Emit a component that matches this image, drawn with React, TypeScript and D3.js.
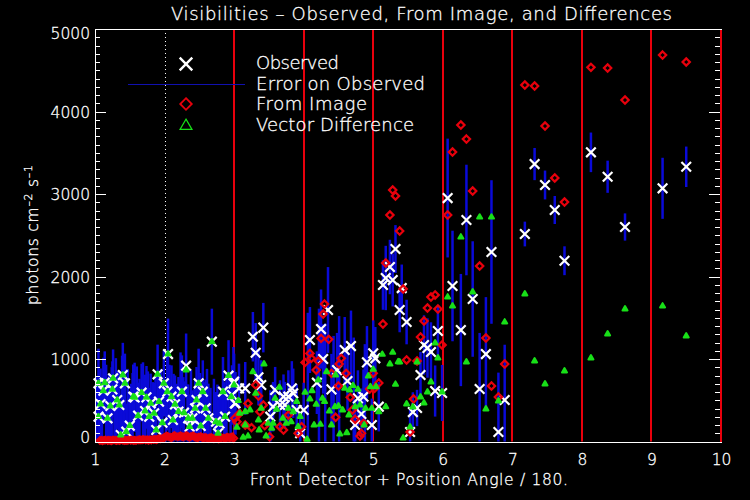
import React, { useRef, useEffect } from "react";
import * as d3 from "d3";

const xTicks = [1, 2, 3, 4, 5, 6, 7, 8, 9, 10];
const yTicks = [0, 1000, 2000, 3000, 4000, 5000];
const redLines = [3, 4, 5, 6, 7, 8, 9, 10];
const dottedLines = [2];

// observed visibilities, position and amplitude
const obsX = [
    1.05, 1.14, 1.26, 1.4, 1.43, 1.12, 1.25, 1.08, 1.22, 1.32, 1.35, 1.05, 1.18, 1.37, 1.45, 1.5, 1.55, 1.57, 1.67, 1.74,
    1.8, 1.62, 1.72, 1.78, 1.85, 1.88, 1.97, 1.92, 1.9, 1.99, 2.05, 2.04, 2.1, 2.25, 2.15, 2.2, 2.28, 2.12, 2.31, 2.34,
    2.4, 2.36, 2.52, 2.44, 2.46, 2.49, 2.55, 2.59, 2.63, 2.74, 2.79, 2.77, 2.68, 2.87, 2.84, 2.92, 2.99, 2.97, 3.02,
    3.0, 3.16, 3.07, 3.01, 3.27, 3.42, 3.31, 3.35, 3.39, 3.59, 3.83, 3.85, 3.71, 3.78, 3.56, 3.73, 3.52, 3.66, 3.9, 4.0,
    3.95, 4.09, 4.25, 4.28, 4.19, 4.4, 4.48, 4.35, 4.59, 4.68, 4.63, 4.91, 5.0, 5.03, 4.86, 4.78, 4.83, 4.74, 4.98, 5.08,
    5.32, 5.24, 5.18, 5.28, 5.14, 5.41, 5.38, 5.48, 5.93, 5.73, 5.78, 5.83, 5.68, 5.89, 5.99, 5.63, 5.57, 5.53,
    6.07, 6.34, 6.14, 6.43, 6.26, 6.62, 6.53, 6.7, 6.89, 6.8,
    7.18, 7.32, 7.47, 7.61, 7.75, 8.13, 8.37, 8.62, 9.16, 9.5,
];
const obsY = [
    705, 713, 766, 806, 705, 616, 632, 455, 430, 503, 442, 301, 281, 79, 119, 192, 543, 535, 592, 535,
    463, 313, 370, 301, 341, 139, 228, 483, 814, 705, 1060, 604, 543, 604, 450, 362, 349, 261, 919, 281,
    281, 180, 188, 402, 503, 705, 604, 402, 281, 240, 220, 99, 1210, 301, 604, 798, 705, 564, 463,
    725, 644, 644, 462, 1270, 1380, 1076, 778, 685, 624, 644, 584, 543, 543, 422, 442, 301, 442, 382, 382,
    100, 1230, 1363, 1000, 713, 632, 866, 1594, 1109, 1157, 733, 959, 1068, 1008, 543, 523, 333, 200, 200, 422,
    2333, 2115, 1982, 1957, 1897, 1860, 1594, 1448, 1339, 1170, 1133, 1085, 806, 612, 588, 406, 357, 115,
    2951, 2685, 1885, 1727, 1351, 1060, 636, 2297, 503, 115,
    2515, 3363, 3109, 2806, 2191, 3505, 3209, 2600, 3069, 3330,
];
const obsErr = [
    420, 380, 350, 390, 360, 400, 340, 430, 380, 350, 400, 430, 390, 360, 340, 410, 390, 420, 350, 380,
    360, 400, 440, 350, 370, 400, 420, 340, 360, 400, 430, 470, 380, 440, 350, 420, 380, 360, 390, 410,
    340, 390, 380, 350, 400, 420, 380, 350, 420, 360, 340, 410, 400, 380, 420, 430, 440, 360, 380,
    340, 320, 300, 350, 300, 300, 360, 340, 300, 280, 330, 300, 270, 320, 300, 280, 320, 300, 310, 330,
    260, 400, 480, 420, 380, 430, 450, 520, 400, 430, 360, 440, 400, 380, 330, 340, 310, 300, 320, 300,
    290, 330, 390, 320, 300, 285, 270, 270, 300, 360, 360, 360, 280, 310, 340, 220, 240, 300,
    720, 670, 670, 700, 680, 690, 680, 870, 670, 720,
    150, 195, 175, 170, 175, 240, 195, 165, 370, 245,
];

// bars whose crosses sit behind others, only their tops can be read
const hiddenBarX = [
    1.02, 1.07, 1.1, 1.16, 1.2, 1.24, 1.28, 1.3, 1.34, 1.39, 1.42, 1.47, 1.52, 1.54, 1.6, 1.64, 1.69, 1.76, 1.83, 1.87,
    1.95, 2.02, 2.07, 2.13, 2.18, 2.23, 2.27, 2.33, 2.38, 2.43, 2.48, 2.51, 2.57, 2.61, 2.66, 2.71, 2.76, 2.81, 2.86, 2.89, 2.95,
    4.06, 4.22, 4.31, 4.43, 4.51, 4.72, 4.88,
];
const hiddenBarTop = [
    780, 860, 720, 930, 810, 900, 740, 1010, 840, 1040, 790, 880, 700, 830, 910, 760, 960, 850, 720, 790,
    880, 760, 930, 820, 700, 1080, 780, 690, 870, 640, 760, 830, 720, 880, 650, 760, 690, 640, 720, 830, 760,
    1560, 1610, 1430, 1280, 1520, 1260, 1180,
];

// the model is almost zero below 3, its diamonds pile up into a band on the axis
const bandX = [
    1.07, 1.09, 1.11, 1.13, 1.15, 1.18, 1.2, 1.22, 1.24, 1.26, 1.29, 1.31, 1.33, 1.35, 1.37, 1.4, 1.42, 1.44, 1.46, 1.48,
    1.51, 1.53, 1.55, 1.57, 1.59, 1.62, 1.64, 1.66, 1.68, 1.7, 1.73, 1.75, 1.77, 1.79, 1.81, 1.84, 1.86, 1.88, 1.9, 1.92,
    1.94, 1.97, 1.99, 2.01, 2.03, 2.05, 2.08, 2.1, 2.12, 2.14, 2.16, 2.19, 2.21, 2.23, 2.25, 2.27, 2.3, 2.32, 2.34, 2.36,
    2.38, 2.41, 2.43, 2.45, 2.47, 2.49, 2.52, 2.54, 2.56, 2.58, 2.6, 2.63, 2.65, 2.67, 2.69, 2.71, 2.74, 2.76, 2.78, 2.8,
    2.82, 2.85, 2.87, 2.89, 2.91, 2.93, 2.95, 2.97,
];
const bandY = [
    12, 15, 10, 14, 18, 11, 16, 13, 10, 17, 14, 11, 16, 12, 18, 15, 11, 16, 13, 17,
    14, 18, 11, 16, 12, 19, 21, 18, 22, 24, 18, 20, 16, 22, 19, 24, 26, 22, 28, 34,
    32, 38, 46, 58, 66, 60, 52, 46, 58, 72, 64, 56, 62, 70, 60, 54, 66, 72, 58, 50,
    62, 70, 56, 50, 44, 52, 60, 48, 42, 50, 44, 36, 42, 48, 40, 34, 42, 36, 30, 38,
    46, 42, 36, 48, 52, 44, 50, 58,
];

// from image, above 3
const imageX = [
    2.99, 3.01, 3.04, 3.08, 3.16, 3.2, 3.25, 3.31, 3.35, 3.37, 3.42, 3.44, 3.51, 3.66, 3.71, 3.78, 3.92, 3.97,
    4.02, 4.09, 4.11, 4.18, 4.21, 4.25, 4.28, 4.3, 4.36, 4.4, 4.46, 4.5, 4.51, 4.54, 4.61, 4.67, 4.7, 4.74, 4.81, 4.83, 4.86,
    4.95, 5.0, 5.02, 5.08, 5.14, 5.18, 5.24, 5.28, 5.32, 5.38, 5.43, 5.48, 5.53, 5.58, 5.63, 5.68, 5.73, 5.78, 5.83, 5.89, 5.93, 5.99,
    6.07, 6.14, 6.26, 6.34, 6.43, 6.53, 6.62, 6.7, 6.8, 6.89,
    7.18, 7.32, 7.47, 7.61, 7.75, 8.13, 8.37, 8.62, 9.16, 9.5,
];
const imageY = [
    38, 281, 240, 341, 200, 462, 168, 685, 551, 361, 442, 192, 58, 180, 139, 321, 99, 180,
    959, 1068, 1008, 866, 975, 1250, 1545, 1666, 1238, 826, 293, 672, 939, 1008, 826, 535, 382, 269, 66, 99, 220,
    636, 826, 644, 709, 1424, 2163, 2745, 3048, 2976, 2551, 1848, 988, 115, 515, 976, 1267, 1460, 1618, 1751, 1776, 1606, 1170,
    2745, 3509, 3836, 3666, 3036, 2127, 1254, 673, 539, 939,
    4321, 4309, 3824, 3194, 2903, 4535, 4527, 4139, 4684, 4600,
];

// vector difference
const diffX = [
    1.05, 1.14, 1.26, 1.4, 1.43, 1.12, 1.25, 1.08, 1.22, 1.32, 1.35, 1.05, 1.18, 1.37, 1.45, 1.5, 1.55, 1.57, 1.67, 1.74,
    1.8, 1.62, 1.72, 1.78, 1.85, 1.88, 1.97, 1.92, 1.9, 1.99, 2.05, 2.04, 2.1, 2.25, 2.15, 2.2, 2.28, 2.12, 2.31, 2.34,
    2.4, 2.36, 2.52, 2.44, 2.46, 2.49, 2.55, 2.59, 2.63, 2.74, 2.79, 2.77, 2.68, 2.87, 2.84, 2.92, 2.96,
    3.27, 3.43, 3.0, 3.06, 3.31, 3.59, 3.65, 3.9, 3.39, 3.23, 3.16, 3.08, 3.61, 3.78, 3.85, 3.95, 3.35, 3.04, 3.16, 3.2, 3.13,
    3.36, 3.46, 3.49, 3.56, 3.54, 3.7, 3.75, 3.82, 3.92, 4.05, 4.02, 4.12, 4.09, 4.18, 4.21, 4.33, 4.46, 4.27, 4.3, 4.37,
    4.45, 4.5, 4.56, 4.15, 4.24, 4.4, 4.52, 4.62, 4.59, 4.71, 4.66, 4.78, 4.65, 4.74, 4.81, 4.89, 4.98, 4.93, 5.0, 5.13,
    5.28, 5.24, 5.36, 5.32, 5.08, 5.18, 4.96, 5.04, 4.87, 5.48, 5.38, 5.63, 5.89, 5.93, 5.83, 5.78, 5.99, 5.73, 5.68, 5.57, 5.53, 5.43,
    6.07, 6.14, 6.26, 6.34, 6.43, 6.53, 6.7, 6.62, 6.8, 6.89,
    7.18, 7.32, 7.47, 7.75, 8.13, 8.37, 8.62, 9.16, 9.5,
];
const diffY = [
    705, 713, 766, 806, 705, 616, 632, 455, 430, 503, 442, 301, 281, 79, 119, 192, 543, 535, 592, 535,
    463, 313, 370, 301, 341, 139, 228, 483, 814, 705, 1060, 604, 543, 604, 450, 362, 349, 261, 867, 281,
    281, 180, 188, 402, 503, 705, 604, 402, 281, 240, 220, 99, 1210, 301, 604, 798, 543,
    846, 939, 685, 495, 584, 523, 656, 483, 402, 382, 361, 341, 390, 402, 361, 301, 260, 172, 200, 66, 50,
    139, 66, 220, 220, 160, 281, 220, 240, 180, 26, 596, 616, 515, 450, 745, 846, 806, 523, 483, 369,
    422, 430, 382, 200, 208, 200, 91, 107, 644, 677, 624, 632, 321, 422, 442, 402, 402, 794, 874, 1056,
    1080, 939, 967, 693, 361, 422, 664, 664, 200, 455, 964, 964, 1194, 1012, 721, 600, 600, 467, 539, 418, 176, 42,
    1751, 1642, 2478, 964, 1812, 2720, 2720, 394, 491, 1448,
    1788, 976, 697, 855, 1012, 1303, 1606, 1642, 1279,
];

const legendLabels = ["Observed", "Error on Observed", "From Image", "Vector Difference"];

const WHITE = "#ffffff";
const RED = "#e8000c";
const BLUE = "#0a0ad8";
const GREEN = "#18e018";
const FONT = "'DejaVu Sans', sans-serif";

function App() {
    const svgRef = useRef<SVGSVGElement>(null);

    useEffect(() => {
        const svg = d3.select(svgRef.current);
        svg.selectAll("*").remove();

        const xScale = d3.scaleLinear().domain([1, 10]).range([95, 721]);
        const yScale = d3.scaleLinear().domain([0, 5000]).range([441.5, 29]);

        // guide lines go under the data
        svg.selectAll(".red-line")
            .data(redLines)
            .join("line")
            .attr("x1", (d) => Math.round(xScale(d)))
            .attr("x2", (d) => Math.round(xScale(d)))
            .attr("y1", yScale(5000))
            .attr("y2", yScale(0))
            .attr("stroke", RED)
            .attr("stroke-width", 2);

        svg.selectAll(".dotted-line")
            .data(dottedLines)
            .join("line")
            .attr("x1", (d) => Math.round(xScale(d)) + 0.5)
            .attr("x2", (d) => Math.round(xScale(d)) + 0.5)
            .attr("y1", yScale(5000))
            .attr("y2", yScale(0))
            .attr("stroke", WHITE)
            .attr("stroke-dasharray", "1 3");

        svg.append("g")
            .selectAll("line")
            .data(hiddenBarX)
            .join("line")
            .attr("x1", (d) => xScale(d))
            .attr("x2", (d) => xScale(d))
            .attr("y1", (_, i) => yScale(hiddenBarTop[i]))
            .attr("y2", yScale(0))
            .attr("stroke", BLUE)
            .attr("stroke-width", 2.5);

        // error bars, stopped at the axis
        svg.append("g")
            .selectAll("line")
            .data(obsX)
            .join("line")
            .attr("x1", (d) => xScale(d))
            .attr("x2", (d) => xScale(d))
            .attr("y1", (_, i) => yScale(Math.min(5000, obsY[i] + obsErr[i])))
            .attr("y2", (_, i) => yScale(Math.max(0, obsY[i] - obsErr[i])))
            .attr("stroke", BLUE)
            .attr("stroke-width", 2.5);

        const cross = d3.symbol().type(d3.symbolTimes);
        const diamond = d3.symbol().type(d3.symbolDiamond2);
        const triangle = d3.symbol().type(d3.symbolTriangle);

        svg.append("g")
            .selectAll("path")
            .data(obsX)
            .join("path")
            .attr("d", cross.size(62)())
            .attr("transform", (d, i) => `translate(${xScale(d)},${yScale(obsY[i])})`)
            .attr("fill", "none")
            .attr("stroke", WHITE)
            .attr("stroke-width", 2.2);

        svg.append("g")
            .selectAll("path")
            .data(bandX)
            .join("path")
            .attr("d", diamond.size(28)())
            .attr("transform", (d, i) => `translate(${xScale(d)},${yScale(bandY[i])})`)
            .attr("fill", "none")
            .attr("stroke", RED)
            .attr("stroke-width", 2);

        svg.append("g")
            .selectAll("path")
            .data(imageX)
            .join("path")
            .attr("d", diamond.size(34)())
            .attr("transform", (d, i) => `translate(${xScale(d)},${yScale(imageY[i])})`)
            .attr("fill", "none")
            .attr("stroke", RED)
            .attr("stroke-width", 2.2);

        svg.append("g")
            .selectAll("path")
            .data(diffX)
            .join("path")
            .attr("d", triangle.size(11)())
            .attr("transform", (d, i) => `translate(${xScale(d)},${yScale(diffY[i])})`)
            .attr("fill", GREEN)
            .attr("stroke", GREEN)
            .attr("stroke-width", 2)
            .attr("stroke-linejoin", "round");

        // axes
        const yMinor = d3.range(0, 5001, 100);
        const frame = svg.append("g");
        const left = frame
            .append("g")
            .attr("transform", `translate(${xScale(1)},0)`)
            .call(d3.axisLeft(yScale).tickValues(yTicks).tickSizeInner(-11).tickSizeOuter(0).tickPadding(5).tickFormat(d3.format("d")));
        frame.append("g")
            .attr("transform", `translate(${xScale(1)},0)`)
            .call(d3.axisLeft(yScale).tickValues(yMinor).tickSizeInner(-5).tickSizeOuter(0).tickFormat(() => ""));
        frame.append("g")
            .attr("transform", `translate(${xScale(10) - 1},0)`)
            .call(d3.axisRight(yScale).tickValues(yTicks).tickSizeInner(-11).tickSizeOuter(0).tickFormat(() => ""));
        frame.append("g")
            .attr("transform", `translate(${xScale(10) - 1},0)`)
            .call(d3.axisRight(yScale).tickValues(yMinor).tickSizeInner(-5).tickSizeOuter(0).tickFormat(() => ""));
        const bottom = frame
            .append("g")
            .attr("transform", `translate(0,${yScale(0)})`)
            .call(d3.axisBottom(xScale).tickValues(xTicks).tickSize(0).tickPadding(12).tickFormat(d3.format("d")));
        frame.append("g")
            .attr("transform", `translate(0,${yScale(5000)})`)
            .call(d3.axisTop(xScale).tickValues(xTicks).tickSize(0).tickFormat(() => ""));

        frame.selectAll("path.domain").attr("stroke", WHITE).attr("shape-rendering", "crispEdges");
        frame.selectAll("line").attr("stroke", WHITE).attr("shape-rendering", "crispEdges");
        // the right axis line itself is hidden by the red line at 10
        frame.selectAll("g:nth-child(3) path.domain, g:nth-child(4) path.domain").attr("stroke", RED).attr("stroke-width", 2);

        left.selectAll("text")
            .attr("font-family", FONT)
            .attr("font-size", 15.5)
            .attr("font-weight", 200)
            .attr("fill", WHITE)
            .attr("stroke", WHITE)
            .attr("stroke-width", 0.3)
            .attr("dy", (d) => (d === 0 ? "0.05em" : d === 5000 ? "0.62em" : "0.36em"));
        bottom
            .selectAll("text")
            .attr("font-family", FONT)
            .attr("font-size", 15.5)
            .attr("font-weight", 200)
            .attr("fill", WHITE)
            .attr("stroke", WHITE)
            .attr("stroke-width", 0.3);

        // legend symbols
        const legendX = 186;
        svg.append("path")
            .attr("d", cross.size(105)())
            .attr("transform", `translate(${legendX},64)`)
            .attr("fill", "none")
            .attr("stroke", WHITE)
            .attr("stroke-width", 2.4);
        svg.append("line")
            .attr("x1", 128)
            .attr("x2", 245)
            .attr("y1", 84.5)
            .attr("y2", 84.5)
            .attr("stroke", "#1010b0");
        svg.append("path")
            .attr("d", diamond.size(85)())
            .attr("transform", `translate(${legendX},104)`)
            .attr("fill", "none")
            .attr("stroke", RED)
            .attr("stroke-width", 1.8);
        svg.append("path")
            .attr("d", triangle.size(62)())
            .attr("transform", `translate(${legendX},126)`)
            .attr("fill", "none")
            .attr("stroke", GREEN)
            .attr("stroke-width", 1.2);
    }, []);

    const textStyle = { fontFamily: FONT, fontWeight: 200, fill: WHITE, stroke: WHITE, strokeWidth: 0.3 };

    return (
        <svg
            width={750}
            height={500}
            style={{ position: "absolute", top: 0, left: 0, background: "#000" }}
        >
            <rect width={750} height={500} fill="#000" />
            <g ref={svgRef} />
            <text x={171} y={20} fontSize={18} textLength={501} style={textStyle}>
                Visibilities – Observed, From Image, and Differences
            </text>
            <text x={250} y={485} fontSize={15.5} textLength={318} style={textStyle}>
                Front Detector + Position Angle / 180.
            </text>
            <text transform="translate(38,305) rotate(-90)" fontSize={15.5} textLength={140} style={textStyle}>
                photons cm
                <tspan dy={-6} fontSize={11}>–2</tspan>
                <tspan dy={6}> s</tspan>
                <tspan dy={-6} fontSize={11}>–1</tspan>
            </text>
            {legendLabels.map((label, i) => (
                <text
                    key={label}
                    x={256}
                    y={[69, 90, 110, 131][i]}
                    fontSize={18}
                    textLength={[83, 169, 111, 158][i]}
                    style={textStyle}
                >
                    {label}
                </text>
            ))}
        </svg>
    );
}

export default App;
